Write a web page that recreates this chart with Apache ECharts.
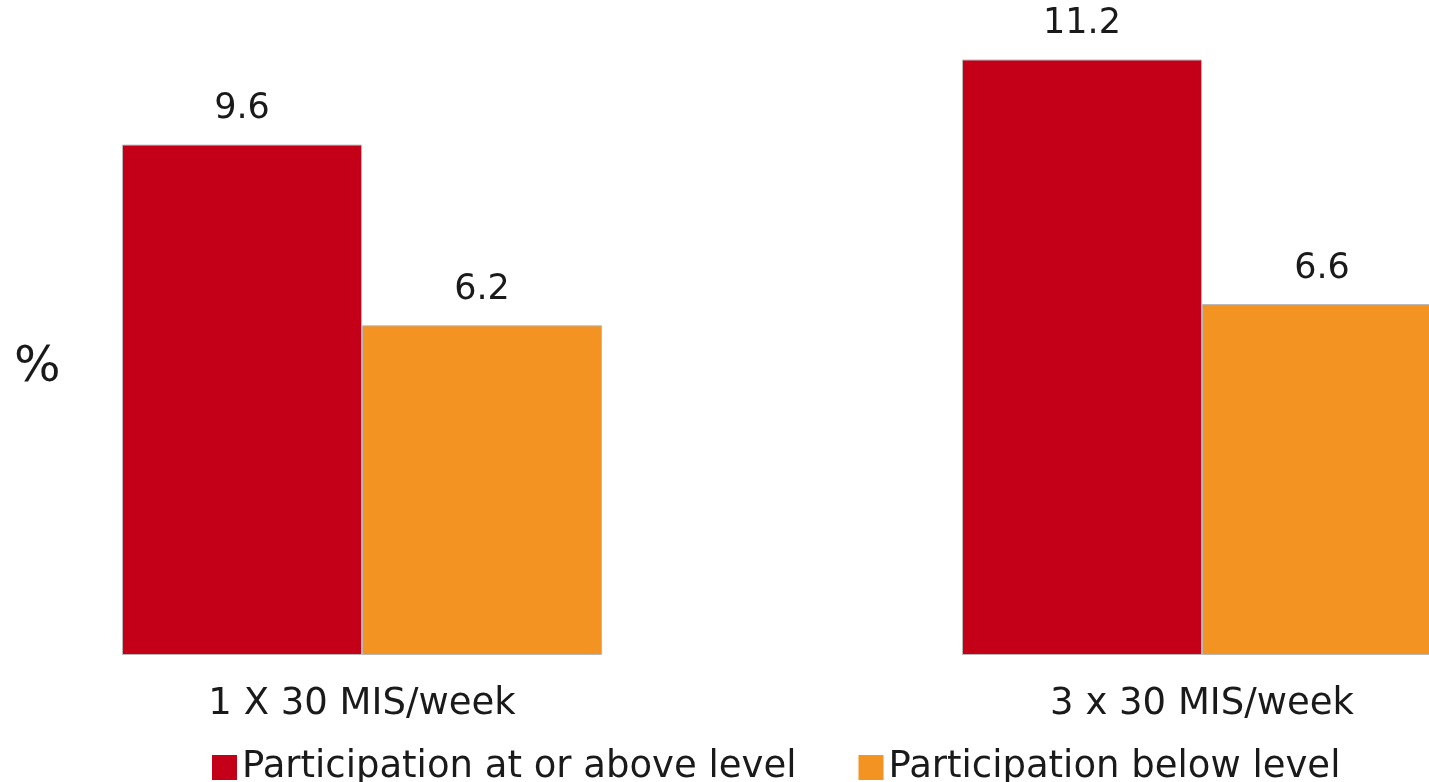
<!DOCTYPE html>
<html>
<head>
<meta charset="utf-8">
<style>
  html, body { margin: 0; padding: 0; background: #ffffff; }
  #chart { width: 1429px; height: 782px; }
</style>
<script src="https://cdn.jsdelivr.net/npm/echarts@6/dist/echarts.min.js"></script>
</head>
<body>
<div id="chart"></div>
<script>
// Share of children (%) by participation level, for two activity doses
const categories = ['1 X 30 MIS/week', '3 x 30 MIS/week'];
const seriesNames = ['Participation at or above level', 'Participation below level'];
const atOrAbove = [9.6, 11.2];
const below = [6.2, 6.6];
const unitLabel = '%';

const FONT = '"DejaVu Sans", Verdana, sans-serif';
const RED = '#c40018';
const ORANGE = '#f39322';

const chart = echarts.init(document.getElementById('chart'));

function barSeries(name, data, color) {
  return {
    name: name,
    type: 'bar',
    data: data,
    barWidth: 240,
    barGap: '0%',
    itemStyle: { color: color, borderColor: '#b8b8b8', borderWidth: 1 },
    label: {
      show: true,
      position: 'top',
      distance: 18,
      color: '#1a1a1a',
      fontFamily: FONT,
      fontSize: 35,
      formatter: p => p.value.toFixed(1)
    },
    emphasis: { disabled: true }
  };
}

chart.setOption({
  backgroundColor: '#ffffff',
  animation: false,
  // the plot area is wider than the page, so the outer bars run off the edges
  grid: { left: -58, width: 1680, top: 17, bottom: 127, outerBoundsMode: 'none', containLabel: false },
  xAxis: {
    type: 'category',
    data: categories,
    axisLine: { show: false },
    axisTick: { show: false },
    axisLabel: {
      margin: 31,
      color: '#1a1a1a',
      fontFamily: FONT,
      fontSize: 37,
      interval: 0
    }
  },
  yAxis: {
    type: 'value',
    min: 0,
    max: 12,
    show: false
  },
  legend: {
    data: seriesNames,
    top: 744,
    left: 207,
    itemWidth: 25,
    itemHeight: 25,
    itemGap: 62,
    icon: 'rect',
    itemStyle: { borderWidth: 0 },
    textStyle: { color: '#1a1a1a', fontFamily: FONT, fontSize: 37 }
  },
  graphic: [{
    type: 'text',
    x: 14,
    y: 368,
    style: { text: unitLabel, font: '49px ' + FONT, fill: '#1a1a1a', verticalAlign: 'middle' }
  }],
  series: [
    barSeries(seriesNames[0], atOrAbove, RED),
    barSeries(seriesNames[1], below, ORANGE)
  ]
});
</script>
</body>
</html>
